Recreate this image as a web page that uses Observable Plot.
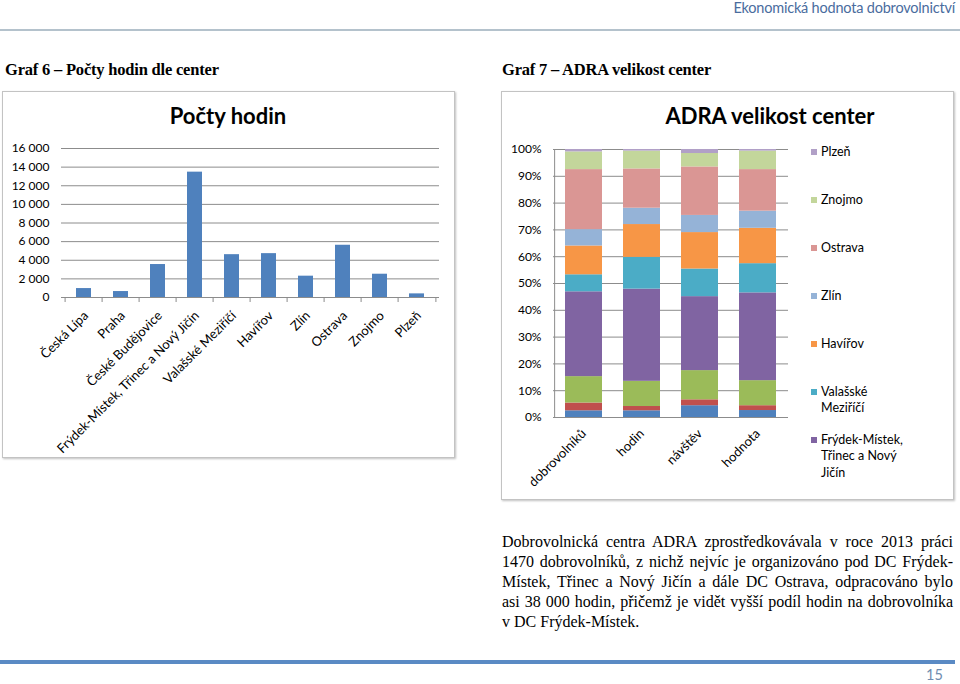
<!DOCTYPE html>
<html><head><meta charset="utf-8">
<script src="https://cdn.jsdelivr.net/npm/d3@7"></script>
<script src="https://cdn.jsdelivr.net/npm/@observablehq/plot@0.6"></script>
<style>
body{margin:0;width:960px;height:684px;position:relative;background:#fff;overflow:hidden;font-family:Lato,sans-serif;color:#000;}
.abs{position:absolute;}
.hdr{right:5px;top:0px;font-size:14.5px;line-height:15px;color:#4a6c9e;letter-spacing:-0.2px;}
.hline{left:0;top:29px;width:960px;height:2px;background:#b4c2cc;}
.graf{font-family:"Liberation Serif",serif;font-weight:bold;font-size:16.5px;top:60px;letter-spacing:-0.2px;}
.box{border:1px solid #c3c3c3;box-shadow:1px 1px 2px rgba(0,0,0,0.25);background:#fff;}
.ctitle{font-weight:bold;font-size:22px;text-align:center;}
.leg{font-size:12.5px;line-height:16.5px;width:84px;}
.sq{width:6px;height:6px;}
.para{left:502px;top:532px;width:451px;font-family:"Liberation Serif",serif;font-size:16px;line-height:20px;}
.para div{text-align:justify;text-align-last:justify;}
.para div.last{text-align-last:left;}
.bline{left:0;top:660px;width:955px;height:4px;background:#5a8ac4;}
.pnum{left:926px;top:666px;font-size:14.5px;color:#6f8cb0;}
svg{overflow:visible;}
</style></head><body>
<div class="abs hdr">Ekonomická hodnota dobrovolnictví</div>
<div class="abs hline"></div>
<div class="abs graf" style="left:5px">Graf 6 – Počty hodin dle center</div>
<div class="abs graf" style="left:502px">Graf 7 – ADRA velikost center</div>
<div class="abs box" style="left:2px;top:91px;width:451px;height:365px;"></div>
<div class="abs box" style="left:501px;top:91px;width:451px;height:407px;"></div>
<div id="c1" class="abs" style="left:3px;top:92px;"></div>
<div id="c2" class="abs" style="left:502px;top:92px;"></div>
<div class="abs ctitle" style="left:3px;top:102px;width:450px;">Počty hodin</div>
<div class="abs ctitle" style="left:540px;top:102px;width:460px;">ADRA velikost center</div>
<div id="legend"></div>
<div class="abs para">
<div>Dobrovolnická centra ADRA zprostředkovávala v roce 2013 práci</div>
<div>1470 dobrovolníků, z nichž nejvíc je organizováno pod DC Frýdek-</div>
<div>Místek, Třinec a Nový Jičín a dále DC Ostrava, odpracováno bylo</div>
<div>asi 38 000 hodin, přičemž je vidět vyšší podíl hodin na dobrovolníka</div>
<div class="last">v DC Frýdek-Místek.</div>
</div>
<div class="abs bline"></div>
<div class="abs pnum">15</div>
<script>
// ---- data ----
const centers = ["Česká Lípa","Praha","České Budějovice","Frýdek-Místek, Třinec a Nový Jičín","Valašské Meziříčí","Havířov","Zlín","Ostrava","Znojmo","Plzeň"];
const hours = [960,640,3540,13460,4600,4710,2290,5610,2500,390];
const hourTicks = [0,2000,4000,6000,8000,10000,12000,14000,16000];
const metrics = ["dobrovolníků","hodin","návštěv","hodnota"];
// share (%) of each center, in the order of `centers`
const shareDobrovolniku = [2.5,2.9,9.85,31.65,6.35,10.75,6.1,22.4,6.6,0.9];
const shareHodin = [2.5,1.6,9.4,34.4,11.85,12.25,6.1,14.65,6.65,0.6];
const shareNavstev = [4.4,2.2,10.9,27.6,10.3,13.6,6.4,18.1,5.0,1.5];
const shareHodnota = [2.6,1.8,9.35,32.75,10.9,13.2,6.4,15.5,6.9,0.6];
const pctTicks = [0,10,20,30,40,50,60,70,80,90,100];
const colors = ["#4F81BD","#C0504D","#9BBB59","#8064A2","#4BACC6","#F79646","#95B3D7","#DA9694","#C3D69B","#B1A0C7"];

const fmt = d => d3.format(",")(d).replace(/,/g, "\u00a0");
const grid = "#8c8c8c";

// ---- chart 1 ----
const hoursData = centers.map((c,i)=>({center:c, hours:hours[i]}));
const w1=450, ml1=58, mr1=14;
const step1 = (w1-ml1-mr1)/centers.length;
const c1 = Plot.plot({
  width:w1, height:364, marginLeft:ml1, marginRight:mr1, marginTop:56, marginBottom:159,
  style:{fontFamily:"Lato", fontSize:"12px", color:"#000", background:"transparent"},
  x:{domain:centers, paddingInner:0.6, paddingOuter:0.3, label:null, axis:null},
  y:{domain:[0,16000], label:null, axis:null},
  marks:[
    Plot.gridY(hourTicks,{stroke:grid, strokeOpacity:1}),
    Plot.axisY(hourTicks,{tickSize:0, tickPadding:12, tickFormat:fmt, label:null, fontSize:12}),
    Plot.barY(hoursData,{x:"center", y:"hours", fill:colors[0]}),
    Plot.ruleY([0],{stroke:grid}),
    Plot.ruleX(centers,{x:d=>d, y1:0, y2:0, insetBottom:-5, dx:-step1/2, stroke:grid}),
    Plot.ruleX([centers[centers.length-1]],{x:d=>d, y1:0, y2:0, insetBottom:-5, dx:step1/2, stroke:grid}),
    Plot.axisX({tickRotate:-45, tickSize:0, tickPadding:16, dx:2, label:null, fontSize:13})
  ]
});
document.getElementById("c1").append(c1);

// ---- chart 2 ----
const shares = [shareDobrovolniku, shareHodin, shareNavstev, shareHodnota];
const stackData = [];
metrics.forEach((m,j)=>centers.forEach((c,i)=>stackData.push({metric:m, center:c, share:shares[j][i]})));
const w2=450, ml2=51, mr2=164;
const step2 = (w2-ml2-mr2)/metrics.length;
const c2 = Plot.plot({
  width:w2, height:404, marginLeft:ml2, marginRight:mr2, marginTop:57, marginBottom:79,
  style:{fontFamily:"Lato", fontSize:"12px", color:"#000", background:"transparent"},
  x:{domain:metrics, paddingInner:0.37, paddingOuter:0.185, label:null, axis:null},
  y:{domain:[0,100], label:null, axis:null},
  color:{domain:centers, range:colors},
  marks:[
    Plot.gridY(pctTicks,{stroke:grid, strokeOpacity:1}),
    Plot.axisY(pctTicks,{tickSize:0, tickPadding:12, tickFormat:d=>d+"%", label:null, fontSize:12}),
    Plot.barY(stackData,{x:"metric", y:"share", fill:"center"}),
    Plot.ruleX([metrics[0]],{x:d=>d, y1:0, y2:100, dx:-step2/2, stroke:grid}),
    Plot.ruleY([0],{stroke:grid}),
    Plot.axisX({tickRotate:-45, tickSize:0, tickPadding:14, label:null, fontSize:13})
  ]
});
document.getElementById("c2").append(c2);

// ---- legend (chart 2) ----
const legendItems = centers.slice(3).reverse();
const leg = document.getElementById("legend");
legendItems.forEach((name,k)=>{
  const i = centers.indexOf(name);
  const cy = 152 + 48*k;
  const sq = document.createElement("div");
  sq.className="abs sq"; sq.style.left="811px"; sq.style.top=(cy-3)+"px"; sq.style.background=colors[i];
  const t = document.createElement("div");
  t.className="abs leg"; t.style.left="821px"; t.style.top=(cy-8.5)+"px"; t.textContent=name;
  leg.append(sq,t);
});
</script>
</body></html>
